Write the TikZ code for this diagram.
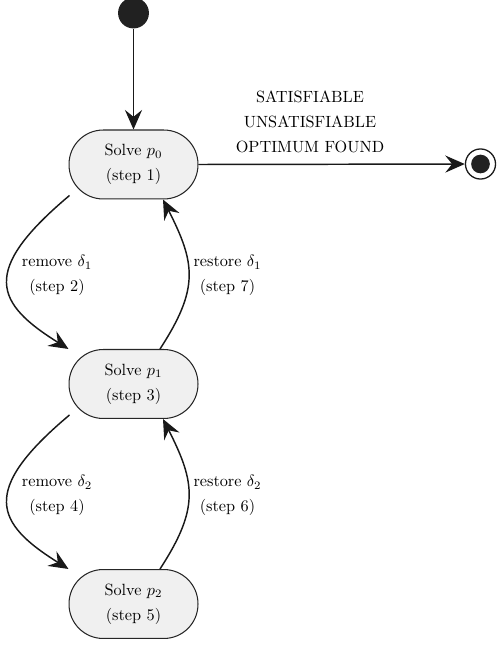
\documentclass[tikz,border=0pt]{standalone}
\usetikzlibrary{arrows.meta}
\begin{document}
\begin{tikzpicture}[x=0.615pt,y=0.615pt,
  state/.style={draw=black!85, line width=0.65pt, fill=black!6, rectangle, rounded corners=21pt,
    minimum width=79.3pt, minimum height=42.4pt, inner sep=0pt, align=center},
  arr/.style={draw=black!90, line width=0.9pt, -{Stealth[length=12pt,width=10.5pt,inset=4.2pt]}},
  lbl/.style={align=center, inner sep=0pt}]
\useasboundingbox (0,0) rectangle (497,645);
\node[circle, fill=black!87, minimum size=19pt, inner sep=0pt] (init) at (133.5,632) {};
\node[state] (n0) at (133.5,480.5) {Solve $p_0$\\[3.4pt](step 1)};
\node[state] (n1) at (133.5,261) {Solve $p_1$\\[3.4pt](step 3)};
\node[state] (n2) at (133.5,41) {Solve $p_2$\\[3.4pt](step 5)};
\node[circle, draw=black!90, line width=0.8pt, minimum size=18.5pt, inner sep=0pt] (fin) at (480.5,481) {};
\node[circle, fill=black!87, minimum size=11.5pt, inner sep=0pt] (fin2) at (fin.center) {};
\node[lbl] (res) at (310,523) {SATISFIABLE\\[3.4pt]UNSATISFIABLE\\[3.4pt]OPTIMUM FOUND};
\node[lbl] (r1) at (57,369.5) {remove $\delta_1$\\[3.4pt](step 2)};
\node[lbl] (s1) at (227.5,369.5) {restore $\delta_1$\\[3.4pt](step 7)};
\node[lbl] (r2) at (57,149.5) {remove $\delta_2$\\[3.4pt](step 4)};
\node[lbl] (s2) at (227.5,149.5) {restore $\delta_2$\\[3.4pt](step 6)};
\draw[arr] (init) -- (n0);
\draw[arr] (n0.east) -- (fin);
\draw[arr] ([shift={(1,4)}]n0.south west) .. controls +(220:118) and +(148:86) .. (n1.north west);
\draw[arr] ([shift={(26.5,0)}]n1.north) .. controls +(57:72) and +(-63:72) .. ([shift={(29.5,0)}]n0.south);
\draw[arr] ([shift={(1,4)}]n1.south west) .. controls +(220:118) and +(148:86) .. (n2.north west);
\draw[arr] ([shift={(26.5,0)}]n2.north) .. controls +(57:72) and +(-63:72) .. ([shift={(29.5,0)}]n1.south);
\end{tikzpicture}
\end{document}
